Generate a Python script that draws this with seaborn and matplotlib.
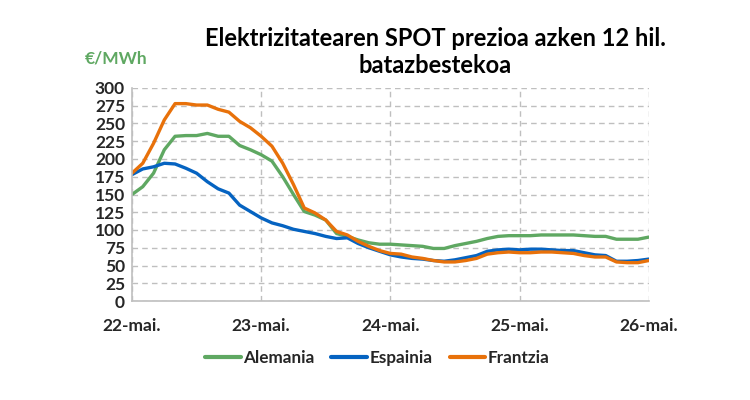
import numpy as np
import pandas as pd
import matplotlib
matplotlib.use('Agg')
import matplotlib.pyplot as plt
import seaborn as sns

# 12-hour moving average, one point every 2 hours, 22-mai -> 26-mai
alemania = [150, 161, 180, 213, 232, 233, 233, 236, 232, 232, 219, 213,
            206, 197, 175, 150, 126, 121, 114, 95, 91, 86, 82, 80,
            80, 79, 78, 77, 74, 74, 78, 81, 84, 88, 91, 92,
            92, 92, 93, 93, 93, 93, 92, 91, 91, 87, 87, 87, 90]
espainia = [178, 186, 189, 194, 193, 187, 180, 168, 158, 152, 135, 126,
            117, 110, 106, 101, 98, 95, 91, 88, 89, 81, 75, 70,
            65, 62, 60, 59, 57, 56, 58, 61, 64, 70, 72, 73,
            72, 73, 73, 72, 71, 71, 68, 65, 64, 56, 56, 57, 59]
frantzia = [180, 194, 222, 255, 278, 278, 276, 276, 270, 266, 253, 244,
            232, 218, 194, 164, 131, 124, 114, 98, 93, 84, 77, 71,
            67, 66, 62, 60, 57, 55, 55, 57, 60, 66, 68, 69,
            68, 68, 69, 69, 68, 67, 64, 62, 62, 55, 54, 54, 57]
day_labels = ['22-mai.', '23-mai.', '24-mai.', '25-mai.', '26-mai.']
y_ticks = list(range(0, 301, 25))

time = pd.date_range('2022-05-22', periods=len(alemania), freq='2h')
df = pd.DataFrame({'time': time, 'Alemania': alemania,
                   'Espainia': espainia, 'Frantzia': frantzia})
df_long = df.melt(id_vars='time', var_name='herrialdea', value_name='prezioa')

sns.set_style('white')
plt.rcParams['font.family'] = ['Lato', 'DejaVu Sans']
plt.rcParams['font.weight'] = 'bold'

colors = {'Alemania': '#5FA862', 'Espainia': '#0563C1', 'Frantzia': '#E8710A'}

fig = plt.figure(figsize=(7.5, 4), dpi=100)
ax = fig.add_axes([0.176, 0.2475, 0.689, 0.5325])
sns.lineplot(data=df_long, x='time', y='prezioa', hue='herrialdea',
             palette=colors, linewidth=2.4, ax=ax, legend=False)

day_ticks = pd.date_range('2022-05-22', periods=5, freq='D')
ax.set_xlim(day_ticks[0], day_ticks[-1])
ax.set_ylim(0, 300)
ax.set_xticks(day_ticks)
ax.set_xticklabels(day_labels, fontsize=12.5, fontweight='bold')
ax.set_yticks(y_ticks)
ax.set_yticklabels([str(v) for v in y_ticks], fontsize=12.5, fontweight='bold')
ax.set_xlabel('')
ax.set_ylabel('')

ax.grid(True, color='#BFBFBF', linestyle=(0, (4, 3)), linewidth=1)
for s in ['top', 'right']:
    ax.spines[s].set_visible(False)
for s in ['left', 'bottom']:
    ax.spines[s].set_color('#BFBFBF')
    ax.spines[s].set_linewidth(1.2)
ax.tick_params(axis='x', length=5, color='#BFBFBF', pad=7)
ax.tick_params(axis='y', length=0, pad=5)

handles = [plt.Line2D([], [], color=colors[k], linewidth=3) for k in colors]
fig.legend(handles, list(colors.keys()), loc='center', bbox_to_anchor=(0.503, 0.105),
           ncol=3, frameon=False, fontsize=12.3, handlelength=2.1,
           handletextpad=0.12, columnspacing=1.0)

fig.text(0.58, 0.87, 'Elektrizitatearen SPOT prezioa azken 12 hil.\nbatazbestekoa',
         ha='center', va='center', fontsize=17, fontweight='bold',
         linespacing=1.25, color='black')
fig.text(0.113, 0.855, '€/MWh', ha='left', va='center', fontsize=12.5,
         fontweight='bold', color='#5FA862')

fig.savefig('out.png', dpi=100)
